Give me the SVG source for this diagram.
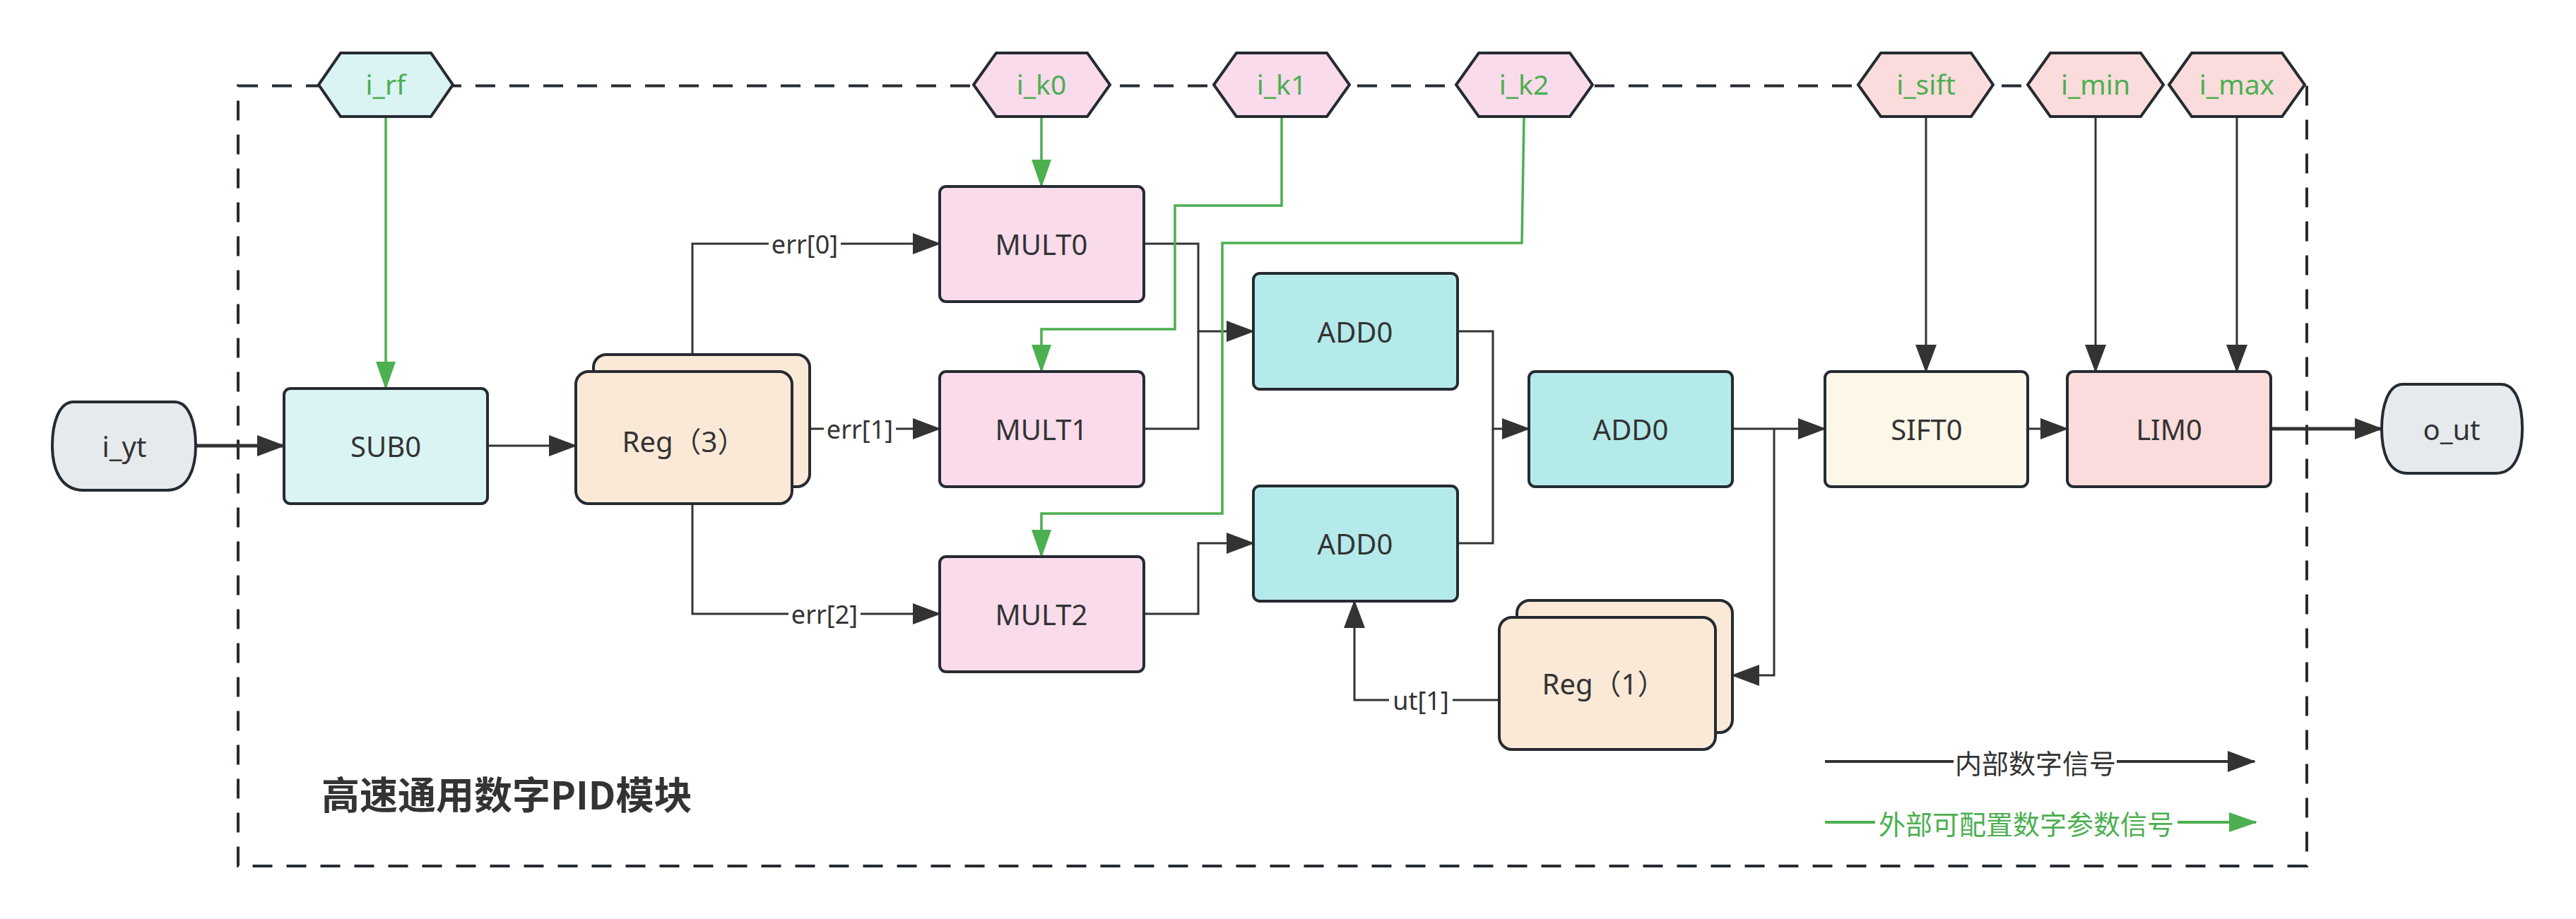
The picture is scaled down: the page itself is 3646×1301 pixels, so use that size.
<svg xmlns="http://www.w3.org/2000/svg" width="3646" height="1301" viewBox="0 0 3646 1301">
<style>
.node{stroke:#262b31;stroke-width:4}
.lbl{font-family:"Noto Sans","Noto Sans CJK SC",sans-serif;font-size:40px;fill:#333333;text-anchor:middle;dominant-baseline:central}
.glbl{font-family:"Noto Sans","Noto Sans CJK SC",sans-serif;font-size:39px;fill:#4caf50;text-anchor:middle;dominant-baseline:central}
.elbl{font-family:"Noto Sans","Noto Sans CJK SC",sans-serif;font-size:36px;fill:#333333;text-anchor:middle;dominant-baseline:central}
.lg{font-family:"Noto Sans CJK SC",sans-serif;font-size:38px;text-anchor:middle;dominant-baseline:central}
.w{stroke:#333333;stroke-width:3;fill:none}
.wt{stroke:#333333;stroke-width:5;fill:none}
.g{stroke:#4caf50;stroke-width:3.5;fill:none}
.bg{fill:#ffffff}
</style>
<defs>
<marker id="ab" markerUnits="userSpaceOnUse" markerWidth="40" markerHeight="30" refX="38" refY="15" orient="auto"><path d="M0,0 L40,15 L0,30 Z" fill="#333333"/></marker>
<marker id="ag" markerUnits="userSpaceOnUse" markerWidth="40" markerHeight="28" refX="38" refY="14" orient="auto"><path d="M0,0 L40,14 L0,28 Z" fill="#4caf50"/></marker>
</defs>
<rect width="3646" height="1301" fill="#ffffff"/>
<g id="module-boundary">
<rect x="337" y="121.5" width="2928" height="1104.5" fill="none" stroke="#262b31" stroke-width="4" stroke-dasharray="28 20"/>
<text x="455" y="1122" style="font-family:'Noto Sans CJK SC',sans-serif;font-size:54px;font-weight:bold;fill:#333333;dominant-baseline:central">高速通用数字PID模块</text>
</g>
<g id="connectors">
<path class="wt" d="M277,631 H402" marker-end="url(#ab)"/>
<path class="w" d="M690,631 H815" marker-end="url(#ab)"/>
<path class="w" d="M980,502 V345 H1330" marker-end="url(#ab)"/>
<path class="w" d="M1146,607 H1330" marker-end="url(#ab)"/>
<path class="w" d="M980,713 V869 H1330" marker-end="url(#ab)"/>
<path class="w" d="M1619,345 H1696 V469 H1774" marker-end="url(#ab)"/>
<path class="w" d="M1619,607 H1696 V469"/>
<path class="w" d="M1619,869 H1696 V769 H1774" marker-end="url(#ab)"/>
<path class="w" d="M2063,469 H2113 V607 H2164" marker-end="url(#ab)"/>
<path class="w" d="M2063,769 H2113 V607"/>
<path class="w" d="M2452,607 H2583" marker-end="url(#ab)"/>
<path class="w" d="M2511,607 V956 H2452" marker-end="url(#ab)"/>
<path class="w" d="M2870,607 H2926" marker-end="url(#ab)"/>
<path class="wt" d="M3214,607 H3371" marker-end="url(#ab)"/>
<path class="w" d="M2122,991 H1917 V851" marker-end="url(#ab)"/>
<path class="w" d="M2726,165 V526" marker-end="url(#ab)"/>
<path class="w" d="M2966,165 V526" marker-end="url(#ab)"/>
<path class="w" d="M3166,165 V526" marker-end="url(#ab)"/>
<path class="g" d="M546,165 V550" marker-end="url(#ag)"/>
<path class="g" d="M1474,165 V264" marker-end="url(#ag)"/>
<path class="g" d="M1814,165 V291 H1663 V466 H1474 V526" marker-end="url(#ag)"/>
<path class="g" d="M2157,165 L2154,344 H1730 V727 H1474 V788" marker-end="url(#ag)"/>
<rect class="bg" x="1088" y="325" width="102" height="40"/>
<text class="elbl" x="1139" y="345">err[0]</text>
<rect class="bg" x="1166" y="587" width="102" height="40"/>
<text class="elbl" x="1217" y="607">err[1]</text>
<rect class="bg" x="1116" y="849" width="102" height="40"/>
<text class="elbl" x="1167" y="869">err[2]</text>
<rect class="bg" x="1966" y="971" width="90" height="40"/>
<text class="elbl" x="2011" y="991">ut[1]</text>
</g>
<g id="legend">
<path d="M2583,1078 H2765 M2996,1078 H3191" stroke="#333333" stroke-width="4" fill="none" marker-end="url(#ab)"/>
<text class="lg" x="2881" y="1078" fill="#333333">内部数字信号</text>
<path d="M2583,1164 H2654 M3082,1164 H3193" stroke="#4caf50" stroke-width="4" fill="none" marker-end="url(#ag)"/>
<text class="lg" x="2868" y="1164" fill="#4caf50">外部可配置数字参数信号</text>
</g>
<g id="i_yt">
<path class="node" fill="#e6eaed" d="M104,569 H247 C268,569 277,600 277,631 C277,664 266,694 236,694 H118 C86,694 74,664 74,631 C74,600 83,569 104,569 Z"/>
<text class="lbl" x="176" y="631">i_yt</text>
</g>
<g id="o_ut">
<path class="node" fill="#e6eaed" d="M3401,544 H3540 C3562,544 3570,575 3570,607 C3570,640 3560,670 3533,670 H3408 C3380,670 3371,640 3371,607 C3371,575 3380,544 3401,544 Z"/>
<text class="lbl" x="3470" y="607">o_ut</text>
</g>
<g id="SUB0">
<rect class="node" x="402" y="550" width="288" height="163" rx="9" fill="#daf4f4"/>
<text class="lbl" x="546" y="631">SUB0</text>
</g>
<g id="Reg3">
<rect class="node" x="840" y="502" width="306" height="187" rx="18" fill="#fbe9d8"/>
<rect class="node" x="815" y="526" width="306" height="187" rx="18" fill="#fbe9d8"/>
<text class="lbl" x="968" y="624">Reg（3）</text>
</g>
<g id="MULT0">
<rect class="node" x="1330" y="264" width="289" height="163" rx="9" fill="#f9dbec"/>
<text class="lbl" x="1474" y="345">MULT0</text>
</g>
<g id="MULT1">
<rect class="node" x="1330" y="526" width="289" height="163" rx="9" fill="#f9dbec"/>
<text class="lbl" x="1474" y="607">MULT1</text>
</g>
<g id="MULT2">
<rect class="node" x="1330" y="788" width="289" height="163" rx="9" fill="#f9dbec"/>
<text class="lbl" x="1474" y="869">MULT2</text>
</g>
<g id="ADD0_top">
<rect class="node" x="1774" y="387" width="289" height="164" rx="9" fill="#b5eaea"/>
<text class="lbl" x="1918" y="469">ADD0</text>
</g>
<g id="ADD0_bottom">
<rect class="node" x="1774" y="688" width="289" height="163" rx="9" fill="#b5eaea"/>
<text class="lbl" x="1918" y="769">ADD0</text>
</g>
<g id="ADD0_mid">
<rect class="node" x="2164" y="526" width="288" height="163" rx="9" fill="#b5eaea"/>
<text class="lbl" x="2308" y="607">ADD0</text>
</g>
<g id="SIFT0">
<rect class="node" x="2583" y="526" width="287" height="163" rx="9" fill="#fcf7e8"/>
<text class="lbl" x="2727" y="607">SIFT0</text>
</g>
<g id="LIM0">
<rect class="node" x="2926" y="526" width="288" height="163" rx="9" fill="#f9dcdb"/>
<text class="lbl" x="3070" y="607">LIM0</text>
</g>
<g id="Reg1">
<rect class="node" x="2147" y="850" width="305" height="187" rx="18" fill="#fbe9d8"/>
<rect class="node" x="2122" y="874" width="306" height="187" rx="18" fill="#fbe9d8"/>
<text class="lbl" x="2270" y="967">Reg（1）</text>
</g>
<g id="i_rf">
<polygon class="node" fill="#daf4f4" points="451,120 482,75 610,75 641,120 610,165 482,165"/>
<text class="glbl" x="546" y="118">i_rf</text>
</g>
<g id="i_k0">
<polygon class="node" fill="#f9dbec" points="1378,120 1410,75 1539,75 1571,120 1539,165 1410,165"/>
<text class="glbl" x="1474" y="118">i_k0</text>
</g>
<g id="i_k1">
<polygon class="node" fill="#f9dbec" points="1718,120 1750,75 1878,75 1910,120 1878,165 1750,165"/>
<text class="glbl" x="1814" y="118">i_k1</text>
</g>
<g id="i_k2">
<polygon class="node" fill="#f9dbec" points="2061,120 2093,75 2222,75 2254,120 2222,165 2093,165"/>
<text class="glbl" x="2157" y="118">i_k2</text>
</g>
<g id="i_sift">
<polygon class="node" fill="#f9dcdb" points="2630,120 2662,75 2790,75 2821,120 2790,165 2662,165"/>
<text class="glbl" x="2726" y="118">i_sift</text>
</g>
<g id="i_min">
<polygon class="node" fill="#f9dcdb" points="2870,120 2902,75 3030,75 3062,120 3030,165 2902,165"/>
<text class="glbl" x="2966" y="118">i_min</text>
</g>
<g id="i_max">
<polygon class="node" fill="#f9dcdb" points="3070,120 3102,75 3230,75 3262,120 3230,165 3102,165"/>
<text class="glbl" x="3166" y="118">i_max</text>
</g>
</svg>
